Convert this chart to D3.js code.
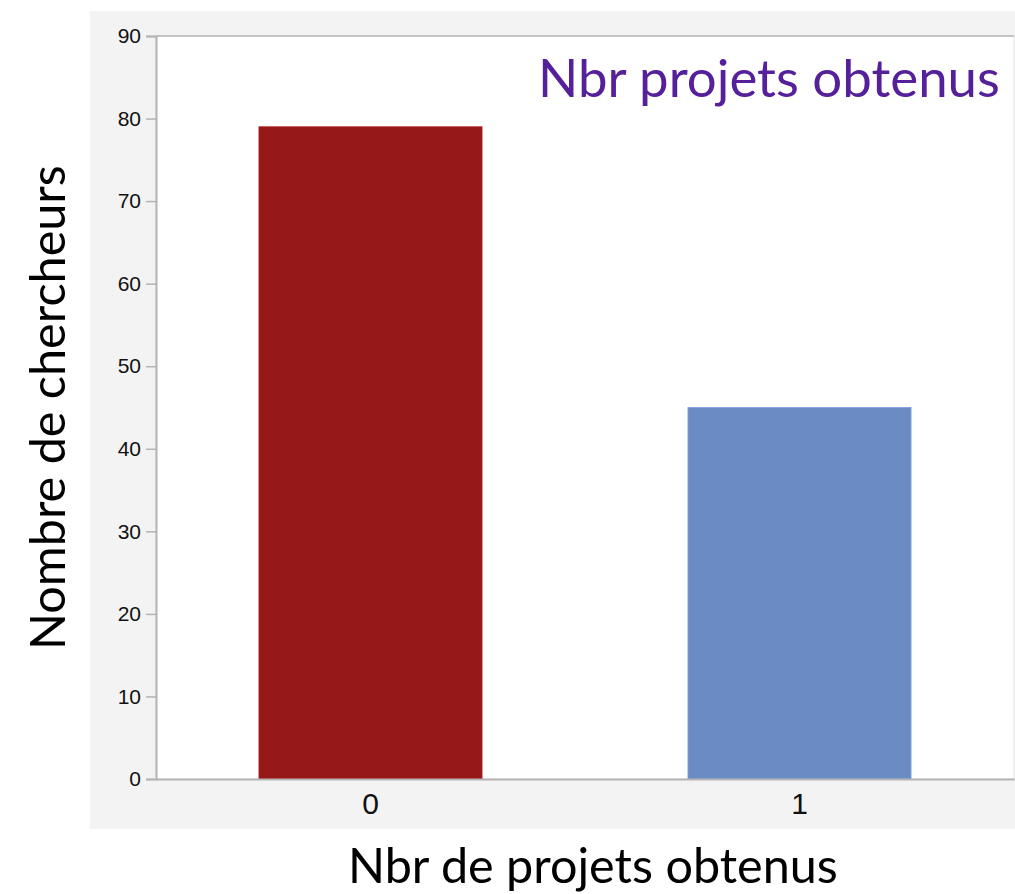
<!DOCTYPE html>
<html>
<head>
<meta charset="utf-8">
<script src="https://cdn.jsdelivr.net/npm/d3@7"></script>
<style>
  body { margin: 0; background: #ffffff; }
  svg { display: block; }
</style>
</head>
<body>
<div id="chart"></div>
<script>
// data
var categories = ["0", "1"];
var values = [79, 45];
var bar_colors = ["#961818", "#6a8bc4"];
var y_ticks = [0, 10, 20, 30, 40, 50, 60, 70, 80, 90];

var width = 1015, height = 894;
var margin = { left: 156, top: 36, right: 1, bottom: 115 };

var svg = d3.select("#chart").append("svg")
  .attr("width", width)
  .attr("height", height);

// gray panel behind the plot
svg.append("rect")
  .attr("x", 90).attr("y", 11)
  .attr("width", width - 90).attr("height", 818)
  .style("fill", "#f3f3f3");

var x = d3.scaleBand()
  .domain(categories)
  .range([margin.left, width - margin.right])
  .paddingInner(0.48)
  .paddingOuter(0.24);

var y = d3.scaleLinear()
  .domain([0, 90])
  .range([height - margin.bottom, margin.top]);

// white plot area
svg.append("rect")
  .attr("x", margin.left).attr("y", margin.top)
  .attr("width", width - margin.right - margin.left)
  .attr("height", y(0) - margin.top)
  .style("fill", "#ffffff")
  .style("stroke", "#e4e4e4");

// bars
svg.selectAll(".bar")
  .data(values)
  .enter().append("rect")
  .attr("class", "bar")
  .attr("x", function(d, i){ return x(categories[i]); })
  .attr("y", function(d){ return y(d); })
  .attr("width", x.bandwidth())
  .attr("height", function(d){ return y(0) - y(d); })
  .style("fill", function(d, i){ return bar_colors[i]; })
  .style("stroke", function(d, i){ return d3.color(bar_colors[i]).brighter(0.4); })
  .style("stroke-width", 0.8);

// top border line
svg.append("line")
  .attr("x1", margin.left).attr("x2", width - margin.right)
  .attr("y1", y(90)).attr("y2", y(90))
  .style("stroke", "#b4b4b4").style("stroke-width", 1.5);

// y axis
var yAxis = svg.append("g")
  .attr("transform", "translate(" + margin.left + ",0)")
  .call(d3.axisLeft(y).tickValues(y_ticks).tickSize(10).tickPadding(5));
yAxis.select(".domain").style("stroke", "#b4b4b4").style("stroke-width", 2);
yAxis.selectAll(".tick line").style("stroke", "#b4b4b4").style("stroke-width", 1.5);
yAxis.selectAll(".tick text")
  .style("font-family", "'Liberation Sans', Arial, sans-serif")
  .style("font-size", "21px")
  .style("fill", "#111");

// x axis
var xAxis = svg.append("g")
  .attr("transform", "translate(0," + y(0) + ")")
  .call(d3.axisBottom(x).tickSize(0).tickPadding(14));
xAxis.select(".domain").style("stroke", "#b4b4b4").style("stroke-width", 2);
xAxis.selectAll(".tick text")
  .style("font-family", "'Liberation Sans', Arial, sans-serif")
  .style("font-size", "30px")
  .style("fill", "#111");

// fits a text element's font size to a target width
function fitText(sel, target){
  var w = sel.node().getComputedTextLength();
  var fs = parseFloat(sel.style("font-size"));
  sel.style("font-size", (fs * target / w) + "px");
}

var label_font = "Lato, 'Open Sans', sans-serif";

var title = svg.append("text")
  .attr("x", 538).attr("y", 97)
  .text("Nbr projets obtenus")
  .style("font-family", label_font)
  .style("font-size", "48px")
  .style("fill", "#55209a");
fitText(title, 462);

var xlabel = svg.append("text")
  .attr("x", 348).attr("y", 883)
  .text("Nbr de projets obtenus")
  .style("font-family", label_font)
  .style("font-size", "50px")
  .style("fill", "#000");
fitText(xlabel, 490);

var ylabel = svg.append("text")
  .attr("transform", "translate(65,650) rotate(-90)")
  .text("Nombre de chercheurs")
  .style("font-family", label_font)
  .style("font-size", "50px")
  .style("fill", "#000");
fitText(ylabel, 485);
</script>
</body>
</html>
